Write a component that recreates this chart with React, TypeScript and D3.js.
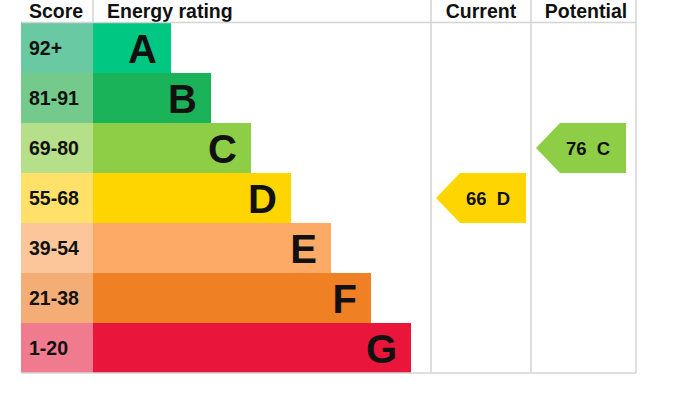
import React from 'react'
import * as d3 from 'd3'

// energy bands, top to bottom
const bands = ['A', 'B', 'C', 'D', 'E', 'F', 'G']
const scoreRanges = ['92+', '81-91', '69-80', '55-68', '39-54', '21-38', '1-20']
const bandMinScores = [92, 81, 69, 55, 39, 21, 1]
const barColors = ['#00c781', '#1bb35a', '#8dce46', '#ffd500', '#fcaa65', '#ef8023', '#e9153b']
const scoreColors = ['#68c9a2', '#74ca8b', '#b6df89', '#ffe169', '#fdc69a', '#f5ad76', '#f07a8e']

const columnTitles = ['Current', 'Potential']
const ratings = [66, 76]

const W = 680
const H = 405
const FONT = "Arial, 'Liberation Sans', sans-serif"

const bandOf = (score: number) => bands[bandMinScores.findIndex(m => score >= m)]

function App() {
  const y = d3.scaleBand().domain(bands).range([23, 373]).padding(0)
  // bar end grows one step per band
  const barEnd = d3.scaleLinear().domain([0, 7]).range([131, 411])
  const colX = d3.scaleOrdinal<string, number>().domain(columnTitles).range([431, 531])
  const colW = 100
  const left = 21
  const scoreRight = 93
  const right = 636
  const line = '#d4d4d4'

  return (
    <svg width={W} height={H} style={{position: 'absolute', left: 0, top: 0, background: '#fff'}} fontFamily={FONT}>
      {/* header */}
      <text x={29} y={18} fontSize={19.5} fontWeight="bold" fill="#111">Score</text>
      <text x={107} y={18} fontSize={19.5} fontWeight="bold" fill="#111">Energy rating</text>
      {columnTitles.map((t, i) => (
        <text key={t} x={colX(t) + (i === 0 ? colW / 2 : 55)} y={18} fontSize={19.5} fontWeight="bold" fill="#111" textAnchor="middle">
          {t}
        </text>
      ))}

      {/* bands */}
      {bands.map((b, i) => {
        const y0 = y(b) as number
        const h = y.bandwidth()
        const end = barEnd(i + 1)
        return (
          <g key={b}>
            <rect x={left} y={y0} width={scoreRight - left} height={h} fill={scoreColors[i]} />
            <rect x={scoreRight} y={y0} width={end - scoreRight} height={h} fill={barColors[i]} />
            <text x={29} y={y0 + h / 2 + 7} fontSize={19.5} fontWeight="bold" fill="#111">{scoreRanges[i]}</text>
            <text x={end - 14} y={y0 + h / 2 + 14.5} fontSize={40} fontWeight="bold" fill="#111" textAnchor="end">{b}</text>
          </g>
        )
      })}

      {/* grid lines */}
      <line x1={left} x2={right} y1={22.5} y2={22.5} stroke={line} strokeWidth={1.5} />
      <line x1={left} x2={right} y1={373} y2={373} stroke={line} strokeWidth={1.5} />
      <line x1={scoreRight} x2={scoreRight} y1={0} y2={22} stroke={line} strokeWidth={1.5} />
      {[...columnTitles.map(t => colX(t)), right].map((x, i) => (
        <line key={i} x1={x} x2={x} y1={0} y2={373} stroke={line} strokeWidth={1.5} />
      ))}

      {/* rating arrows */}
      {ratings.map((r, i) => {
        const b = bandOf(r)
        const bi = bands.indexOf(b)
        const y0 = y(b) as number
        const h = y.bandwidth()
        const x0 = colX(columnTitles[i]) + 5
        const x1 = x0 + 90
        const tip = 24
        const path = d3.path()
        path.moveTo(x0, y0 + h / 2)
        path.lineTo(x0 + tip, y0)
        path.lineTo(x1, y0)
        path.lineTo(x1, y0 + h)
        path.lineTo(x0 + tip, y0 + h)
        path.closePath()
        return (
          <g key={i}>
            <path d={path.toString()} fill={barColors[bi]} />
            <text x={x0 + 52} y={y0 + h / 2 + 6.5} fontSize={18.5} fontWeight="bold" fill="#111" textAnchor="middle" style={{whiteSpace: 'pre'}}>
              {`${r}  ${b}`}
            </text>
          </g>
        )
      })}
    </svg>
  )
}

export default App
